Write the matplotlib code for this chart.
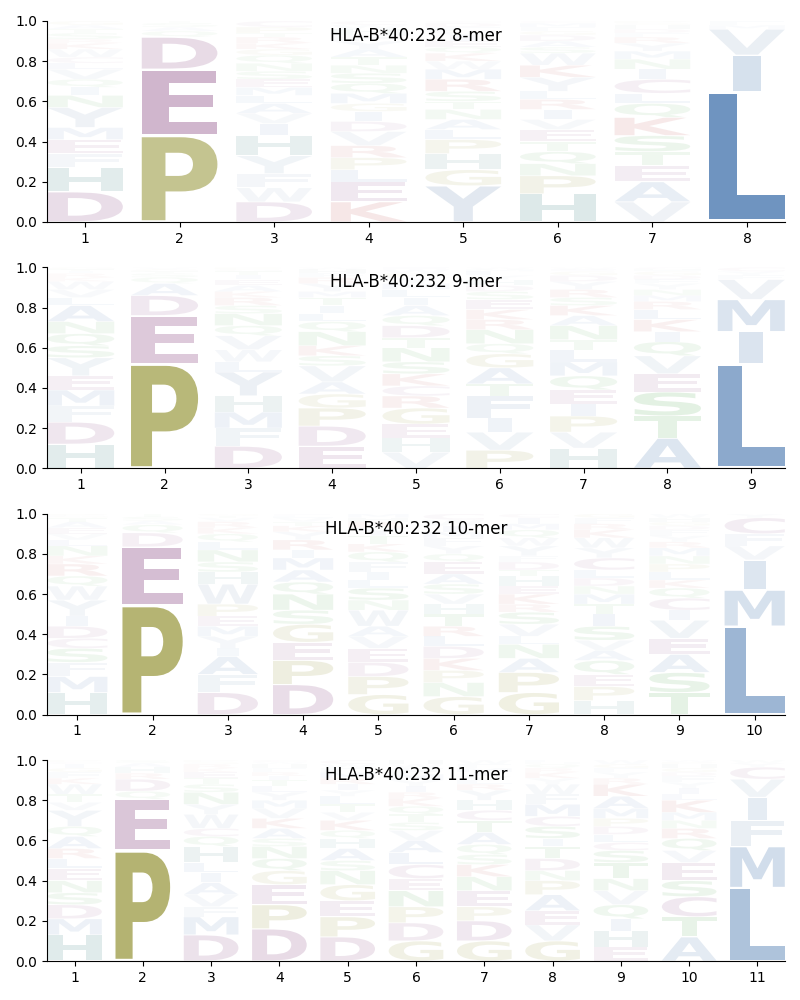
import matplotlib

matplotlib.use("Agg")
import matplotlib.pyplot as plt
from matplotlib.font_manager import FontProperties
from matplotlib.patches import PathPatch
from matplotlib.textpath import TextPath
from matplotlib.transforms import Affine2D

ALLELE = "HLA-B*40:232"

# Letters per position, listed bottom -> top, with matching stack heights.
MER8_LETTERS = [
    "DHFEMYNIQVLCWKRSTAG",
    "PEDQAST",
    "DWFYHIVALMESNQGKRTPC",
    "KELPRVDIGMQSNTAYFHWC",
    "YGHPLANTSRMWKQEIVFDC",
    "HPNQTEVIRLYKWSADGFMC",
    "VAETSKQLCINMYRFDHGP",
    "LIVMF",
]
MER8_HEIGHTS = [
    [.15, .12, .07, .07, .06, .10, .06, .04, .04, .05, .03, .03, .04, .03, .02, .03, .02, .02, .02],
    [.43, .33, .16, .03, .02, .02, .01],
    [.10, .07, .07, .09, .10, .06, .05, .05, .04, .04, .04, .04, .04, .04, .03, .03, .03, .02, .03, .03],
    [.10, .10, .06, .06, .06, .07, .05, .05, .04, .05, .05, .05, .04, .04, .04, .04, .03, .03, .02, .02],
    [.18, .08, .08, .07, .05, .05, .05, .04, .05, .06, .05, .04, .04, .03, .03, .03, .02, .02, .02, .01],
    [.14, .09, .06, .06, .05, .06, .05, .05, .05, .04, .07, .06, .06, .03, .03, .03, .02, .02, .02, .01],
    [.10, .10, .08, .07, .08, .09, .07, .05, .07, .05, .05, .04, .04, .03, .02, .02, .02, .01, .01],
    [.65, .18, .13, .02, .02],
]

MER9_LETTERS = [
    "HDFMEYSQNALVWKRITG",
    "PEDAQSTGV",
    "DFMHYLWVQNSRKAEITGP",
    "EDPGAVSKNQLITMYRFHW",
    "VHEGRCKSNTDQAILMYPWF",
    "PVIFTAGQNRKESDHYLMW",
    "HVPIEQMLTNAKSRYDGFW",
    "ATSEVQIKLRMNYFDGHC",
    "LIMVFYC",
]
MER9_HEIGHTS = [
    [.12, .11, .08, .08, .07, .09, .06, .06, .06, .08, .04, .04, .04, .02, .02, .01, .01, .01],
    [.52, .24, .10, .06, .03, .02, .01, .01, .01],
    [.11, .09, .08, .08, .12, .05, .06, .07, .05, .06, .04, .04, .03, .03, .03, .02, .02, .01, .01],
    [.11, .10, .09, .07, .06, .08, .05, .05, .07, .05, .04, .04, .04, .03, .04, .03, .02, .02, .01],
    [.08, .07, .07, .08, .06, .05, .06, .06, .07, .05, .06, .05, .05, .04, .04, .03, .03, .02, .02, .01],
    [.09, .09, .07, .11, .06, .08, .07, .05, .07, .05, .05, .05, .04, .03, .03, .02, .02, .01, .01],
    [.10, .08, .08, .06, .07, .07, .07, .06, .05, .07, .05, .05, .04, .04, .04, .03, .02, .01, .01],
    [.15, .11, .12, .09, .09, .07, .05, .06, .05, .04, .03, .03, .03, .02, .02, .02, .01, .01],
    [.52, .16, .16, .10, .02, .02, .02],
]

MER10_LETTERS = [
    "HMFSCDIYWQRKNLVEATGP",
    "PEDQAST",
    "DFAIYMEPWHSNLQKRVTG",
    "DPEGSNQAMIRYKTVLF",
    "GPDEVAWNSLIFQKTYRHM",
    "GNPKDLRTHVSAEQYFMIWC",
    "GPANLVSRKEHTDFYWQMIC",
    "HPEQAVSITMNDLCYWKRFG",
    "TSAEVICQKLPNMRYFDGHW",
    "LMIVFCY",
]
MER10_HEIGHTS = [
    [.11, .08, .07, .07, .05, .06, .05, .08, .07, .05, .06, .04, .05, .03, .03, .03, .03, .02, .01, .01],
    [.545, .29, .07, .04, .02, .02, .015],
    [.11, .09, .09, .04, .06, .05, .05, .06, .10, .06, .05, .06, .04, .04, .03, .03, .02, .01, .01],
    [.15, .12, .09, .09, .07, .08, .06, .06, .06, .04, .05, .04, .03, .02, .02, .01, .01],
    [.10, .09, .07, .07, .06, .05, .08, .05, .06, .04, .04, .05, .05, .04, .04, .04, .03, .02, .02],
    [.09, .07, .06, .06, .06, .05, .05, .06, .05, .05, .05, .05, .06, .04, .04, .04, .03, .03, .03, .03],
    [.11, .10, .07, .07, .04, .06, .06, .04, .05, .04, .05, .03, .04, .03, .05, .04, .04, .03, .03, .02],
    [.07, .07, .06, .07, .05, .05, .07, .06, .05, .05, .04, .04, .04, .06, .05, .05, .04, .03, .03, .02],
    [.11, .10, .09, .08, .09, .05, .06, .05, .04, .04, .04, .04, .04, .03, .03, .03, .02, .02, .02, .02],
    [.44, .18, .15, .07, .06, .08, .02],
]

MER11_LETTERS = [
    "HMDSNELRAQYVTWKFGICP",
    "PEQDRHAS",
    "DMFVAILHQCWYNSTEKRGP",
    "DPEGQNSAKVMYLTIRFHWC",
    "DPEGNSAHQKVTLYIRMFWC",
    "GDPNECLAVSTQKRIYMFWH",
    "GDPENKSQATCHYRLVIMFW",
    "GVEAPNDTISCMFWYKRQHL",
    "EHIQVNTSCLDPMAKRYFGW",
    "ATCSEVQRNMKLIYFDGHPW",
    "LMFIVCYW",
]
MER11_HEIGHTS = [
    [.13, .08, .07, .06, .06, .06, .05, .05, .06, .05, .08, .04, .04, .05, .03, .03, .02, .02, .01, .01],
    [.55, .255, .04, .06, .03, .03, .02, .015],
    [.13, .09, .05, .06, .06, .05, .05, .08, .05, .04, .07, .05, .06, .04, .03, .03, .02, .02, .01, .01],
    [.16, .12, .10, .07, .06, .06, .04, .05, .05, .05, .04, .04, .03, .03, .02, .02, .02, .02, .01, .01],
    [.12, .10, .08, .08, .07, .05, .06, .05, .04, .05, .04, .04, .04, .03, .03, .03, .03, .02, .02, .02],
    [.10, .09, .08, .08, .06, .07, .06, .06, .05, .04, .04, .04, .04, .03, .03, .03, .03, .03, .02, .02],
    [.10, .10, .07, .08, .07, .06, .05, .05, .06, .06, .05, .05, .05, .03, .02, .02, .02, .02, .02, .02],
    [.10, .08, .07, .08, .07, .05, .06, .06, .04, .06, .05, .06, .05, .05, .03, .03, .02, .02, .01, .01],
    [.07, .08, .06, .07, .07, .06, .08, .06, .04, .04, .04, .04, .05, .06, .06, .03, .03, .02, .02, .02],
    [.12, .10, .10, .08, .09, .06, .06, .05, .04, .04, .06, .03, .03, .03, .03, .02, .02, .02, .01, .01],
    [.365, .205, .13, .115, .09, .06, .02, .015],
]

PANELS = [
    (8, MER8_LETTERS, MER8_HEIGHTS),
    (9, MER9_LETTERS, MER9_HEIGHTS),
    (10, MER10_LETTERS, MER10_HEIGHTS),
    (11, MER11_LETTERS, MER11_HEIGHTS),
]

BLUE, LIGHT_BLUE, OLIVE, PURPLE = "#6f94c0", "#98afca", "#a7a658", "#a36f9d"
TEAL, RED, GREEN = "#659c9c", "#c86464", "#6ab46a"
COLORS = {}
for aa in "ALIM":
    COLORS[aa] = BLUE
for aa in "VFWY":
    COLORS[aa] = LIGHT_BLUE
for aa in "PG":
    COLORS[aa] = OLIVE
for aa in "DEC":
    COLORS[aa] = PURPLE
for aa in "KR":
    COLORS[aa] = RED
for aa in "STNQ":
    COLORS[aa] = GREEN
COLORS["H"] = TEAL

FONT = FontProperties(family="DejaVu Sans", weight="bold")
WIDTH = 0.8
VPAD = 0.04
ALPHA_REF = 0.65  # height that maps to full opacity
REF_EXT = TextPath((0, 0), "E", size=1, prop=FONT).get_extents()


def draw_glyph(ax, ch, x, floor, ceiling, color, alpha):
    path = TextPath((0, 0), ch, size=1, prop=FONT)
    ext = path.get_extents()
    # don't stretch narrow letters (like I) more than E
    hstretch = min(WIDTH / ext.width, WIDTH / REF_EXT.width)
    height = ceiling - floor
    pad = VPAD * height / 2
    vstretch = (height - 2 * pad) / ext.height
    shift = (WIDTH - hstretch * ext.width) / 2
    tf = (Affine2D()
          .translate(-ext.x0, -ext.y0)
          .scale(hstretch, vstretch)
          .translate(x - WIDTH / 2 + shift, floor + pad))
    ax.add_patch(PathPatch(tf.transform_path(path), facecolor=color,
                           edgecolor="none", linewidth=0, alpha=alpha))


fig, axes = plt.subplots(4, 1, figsize=(8, 10))
fig.subplots_adjust(left=0.059, right=0.981, top=0.979, bottom=0.039, hspace=0.226)

for ax, (n, letters, heights) in zip(axes, PANELS):
    for pos, (lets, hs) in enumerate(zip(letters, heights), start=1):
        floor = 0.0
        for ch, h in zip(lets, hs):
            draw_glyph(ax, ch, pos, floor, floor + h, COLORS[ch], min(1.0, h / ALPHA_REF))
            floor += h
    ax.set_xlim(0.6, n + 0.4)
    ax.set_ylim(0, 1)
    ax.set_xticks(range(1, n + 1))
    ax.spines["top"].set_visible(False)
    ax.spines["right"].set_visible(False)
    ax.text(0.5, 0.925, f"{ALLELE} {n}-mer", transform=ax.transAxes,
            ha="center", va="center", fontsize=12)

fig.savefig("out.png", dpi=100)
